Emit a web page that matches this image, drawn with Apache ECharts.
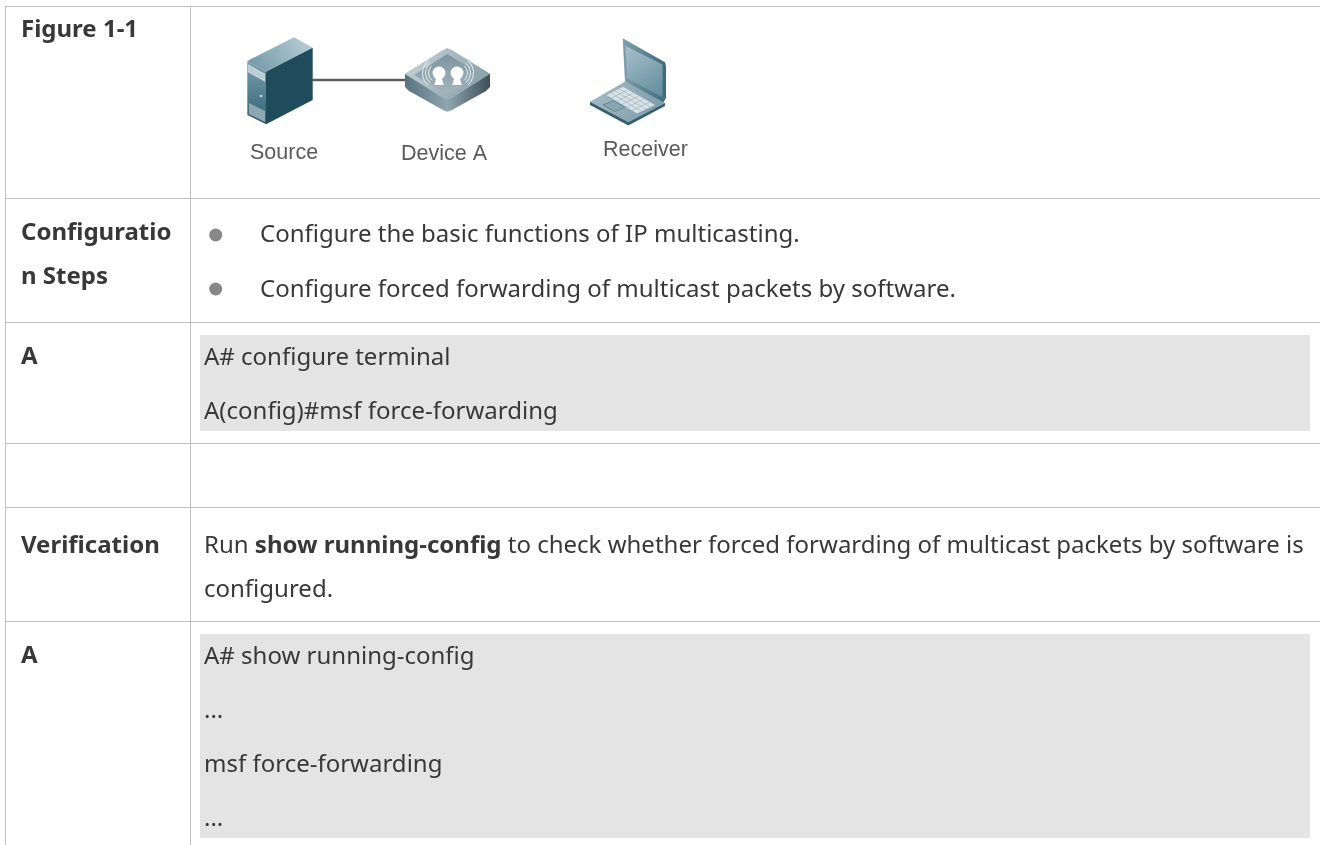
<!DOCTYPE html>
<html><head><meta charset="utf-8">
<style>html,body{margin:0;padding:0;background:#fff}#c{width:1320px;height:845px}</style>
<script src="https://cdn.jsdelivr.net/npm/echarts@6/dist/echarts.min.js"></script>
</head><body><div id="c"></div>
<script>
const rowLabels = ["Figure 1-1", "Configuratio", "n Steps", "A", "Verification", "A"];
const deviceLabels = ["Source", "Device A", "Receiver"];
const steps = ["Configure the basic functions of IP multicasting.", "Configure forced forwarding of multicast packets by software."];
const configLines = ["A# configure terminal", "A(config)#msf force-forwarding"];
const verifyLine1 = [["Run ", false], ["show running-config", true], [" to check whether forced forwarding of multicast packets by software is", false]];
const verifyLine2 = "configured.";
const showLines = ["A# show running-config", "...", "msf force-forwarding", "..."];

const F = '"Noto Sans"';
const FS = 24, INK = '#383838', RULE = '#c2c2c2';
const els = [];
function rect(x, y, w, h, fill) { els.push({type:'rect', shape:{x, y, width:w, height:h}, style:{fill}, silent:true}); }
function hl(y, x1, x2) { rect(x1, y, x2 - x1, 1, RULE); }
function vl(x, y1, y2) { rect(x, y1, 1, y2 - y1, RULE); }
function poly(points, fill, stroke, lw) { els.push({type:'polygon', shape:{points}, style:{fill, stroke: stroke || null, lineWidth: lw || 0, lineJoin:'round'}, silent:true}); }
function line(x1, y1, x2, y2, stroke, lineWidth) { els.push({type:'line', shape:{x1, y1, x2, y2}, style:{stroke, lineWidth}, silent:true}); }
function circle(cx, cy, r, fill) { els.push({type:'circle', shape:{cx, cy, r}, style:{fill}, silent:true}); }
function arc(cx, cy, r, a1, a2, stroke, lineWidth) { els.push({type:'arc', shape:{cx, cy, r, startAngle:a1, endAngle:a2}, style:{stroke, lineWidth, fill:null}, silent:true}); }
function text(s, x, y, opts) {
  opts = opts || {};
  els.push({type:'text', x, y, silent:true, style:{text:s, fill:opts.fill || INK, fontFamily:opts.family || F, fontSize:opts.size || FS, fontWeight:opts.bold ? 700 : 400, textAlign:'left', textVerticalAlign:'middle', verticalAlign:'middle'}});
}
function grad(x, y, x2, y2, c1, c2, c3) {
  const colorStops = c3 ? [{offset:0,color:c1},{offset:.5,color:c2},{offset:1,color:c3}] : [{offset:0,color:c1},{offset:1,color:c2}];
  return new echarts.graphic.LinearGradient(x, y, x2, y2, colorStops);
}

// table rules
[6, 198, 322, 443, 507, 621].forEach(y => hl(y, 5, 1320));
vl(5, 6, 845); vl(190, 6, 845);

// grey code blocks
rect(200, 335, 1110, 96, '#e4e4e4');
rect(200, 634, 1110, 204, '#e4e4e4');

// left column
text(rowLabels[0], 21, 30, {bold:true});
text(rowLabels[1], 21, 233, {bold:true});
text(rowLabels[2], 21, 277, {bold:true});
text(rowLabels[3], 21, 357, {bold:true});
text(rowLabels[4], 21, 546, {bold:true});
text(rowLabels[5], 21, 656, {bold:true});

// bullets + steps
circle(215.7, 235, 6.5, '#878787'); circle(215.7, 289, 6.5, '#878787');
text(steps[0], 260, 235); text(steps[1], 260, 290);

// config
text(configLines[0], 204, 358); text(configLines[1], 204, 412);

// verification
let vx = 204;
const ctx = document.createElement('canvas').getContext('2d');
verifyLine1.forEach(([s, b]) => {
  text(s, vx, 546, {bold:b});
  ctx.font = (b ? '700 ' : '400 ') + FS + 'px ' + F;
  vx += ctx.measureText(s).width;
});
text(verifyLine2, 204, 590);

// show output
[657, 711, 765, 819].forEach((y, i) => text(showLines[i], 204, y));

// server
poly([[247.3,61],[294,37.3],[312.7,47.7],[266,71.7]], grad(0,1,1,0,'#6f95a4','#bcd0d8'));
poly([[247.3,61],[266,71.7],[266,124.3],[247.3,115]], grad(0,0,0,1,'#7aa0ae','#2f6074'));
poly([[266,71.7],[312.7,47.7],[312.7,100],[266,124.3]], '#1f4b5b');
poly([[248,64],[265,73.5],[265,82],[248,72.5]], '#a9bfc8');
for (let i = 0; i < 3; i++) line(248, 65.5+i*2.6, 265, 75+i*2.6, '#e0e8eb', 1);
poly([[249,103],[265,111],[265,122],[249,114]], '#8fa7b0');
circle(261, 96, 1.3, '#c8d6db');

// link
line(312, 80, 406, 80, '#5c5c5c', 2.4);

// device A
poly([[405,74],[405,87],[409,91],[443,110],[447.3,111.7],[452,110],[486,91],[490,87],[490,74],[447.3,48.3]], grad(0,0,1,0,'#56737f','#90a6af','#3d4e55'));
poly([[405,74],[443,50],[447.3,48.3],[452,50],[490,74],[452,98],[447.3,100],[443,98]], grad(0,0,1,1,'#c9d5da','#7f98a3'));
poly([[414,75],[447.3,54],[481,75],[447.3,94]], grad(0,0,0,1,'#7c949f','#a5b6bd'));
[[439,73],[457,73]].forEach(([cx, cy]) => {
  circle(cx, cy, 6.5, '#ffffff');
  poly([[cx-2.5,cy+3],[cx+2.5,cy+3],[cx+4,cy+10],[cx+5,cy+12],[cx-5,cy+12],[cx-4,cy+10]], '#ffffff');
});
[9.5, 12.5, 15.5].forEach(r => {
  arc(438,73,r,Math.PI*.72,Math.PI*1.28,'#eef2f3',1);
  arc(458,73,r,-Math.PI*.28,Math.PI*.28,'#eef2f3',1);
});

// laptop
poly([[622.7,38.3],[665,62.3],[666,66],[666,98],[663,103],[625,81.7]], grad(0,0,1,0,'#7f9fac','#3d6a7b'));
poly([[625.5,46],[662.5,64.5],[662.5,97.5],[627,78]], grad(0,0,1,1,'#a9c0ca','#5f8b9c'));
poly([[590,101.7],[625,81.7],[665,103],[628.3,122]], grad(0,0,1,1,'#a6bcc5','#7a99a6'));
poly([[590,101.7],[628.3,122],[665,103],[665,106],[628.3,125.5],[590,105]], '#36606f');
const KB = [[606.7,95],[623,86.7],[655,105],[637,113.5]];
poly(KB, '#d9e3e7');
for (let i = 1; i < 6; i++) {
  const t = i/6;
  line(KB[0][0]+(KB[3][0]-KB[0][0])*t, KB[0][1]+(KB[3][1]-KB[0][1])*t, KB[1][0]+(KB[2][0]-KB[1][0])*t, KB[1][1]+(KB[2][1]-KB[1][1])*t, '#9db3bc', 0.7);
}
for (let i = 1; i < 4; i++) {
  const t = i/4;
  line(KB[0][0]+(KB[1][0]-KB[0][0])*t, KB[0][1]+(KB[1][1]-KB[0][1])*t, KB[3][0]+(KB[2][0]-KB[3][0])*t, KB[3][1]+(KB[2][1]-KB[3][1])*t, '#9db3bc', 0.7);
}
poly([[603,105],[613,100.7],[625,107],[615,111.7]], '#8ba5b0', '#55808f', 0.8);

// node labels
const LF = {family:'"Liberation Sans"', size:21.5, fill:'#5a5a5a'};
text(deviceLabels[0], 250, 153, LF);
text(deviceLabels[1], 401, 154, LF);
text(deviceLabels[2], 603, 150, LF);

const chart = echarts.init(document.getElementById('c'), null, {renderer:'canvas'});
chart.setOption({animation:false, backgroundColor:'#ffffff', graphic:{elements:els}});
</script></body></html>
